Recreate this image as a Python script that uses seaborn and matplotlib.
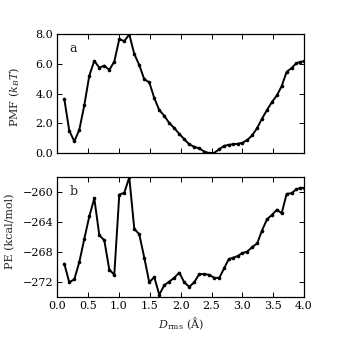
import matplotlib
matplotlib.use("Agg")
import matplotlib.pyplot as plt
import seaborn as sns
import pandas as pd

# Data
d_rms = [0.113, 0.194, 0.276, 0.357, 0.438, 0.519, 0.600, 0.681, 0.762, 0.843,
         0.924, 1.005, 1.086, 1.167, 1.248, 1.329, 1.410, 1.491, 1.572, 1.653,
         1.734, 1.815, 1.896, 1.977, 2.058, 2.139, 2.220, 2.301, 2.382, 2.464,
         2.545, 2.626, 2.707, 2.780, 2.853, 2.925, 2.998, 3.079, 3.160, 3.241,
         3.318, 3.399, 3.480, 3.561, 3.637, 3.718, 3.799, 3.874, 3.942, 3.995]

pmf = [3.66, 1.52, 0.80, 1.58, 3.22, 5.21, 6.20, 5.74, 5.88, 5.59,
       6.15, 7.66, 7.52, 7.97, 6.66, 5.92, 4.96, 4.76, 3.71, 2.90,
       2.52, 2.03, 1.70, 1.30, 0.95, 0.60, 0.44, 0.33, 0.12, 0.01,
       0.03, 0.28, 0.50, 0.57, 0.61, 0.64, 0.70, 0.89, 1.21, 1.70,
       2.32, 2.90, 3.44, 3.89, 4.50, 5.46, 5.72, 6.04, 6.13, 6.17]

pe = [-269.5, -272.0, -271.6, -269.3, -266.2, -263.2, -260.8, -265.7, -266.4, -270.3,
      -271.0, -260.3, -260.05, -258.0, -264.85, -265.6, -268.7, -272.0, -271.3, -273.65,
      -272.4, -271.9, -271.4, -270.7, -272.0, -272.6, -272.0, -270.9, -270.9, -271.0,
      -271.4, -271.4, -270.1, -268.9, -268.7, -268.5, -268.1, -267.9, -267.3, -266.8,
      -265.1, -263.6, -263.0, -262.3, -262.8, -260.2, -260.1, -259.6, -259.4, -259.4]

pmf_ticks = [0.0, 2.0, 4.0, 6.0, 8.0]
pe_ticks = [-272, -268, -264, -260]
x_ticks = [0.0, 0.5, 1.0, 1.5, 2.0, 2.5, 3.0, 3.5, 4.0]

df = pd.DataFrame({"d": d_rms, "pmf": pmf, "pe": pe})

sns.set_theme(style="ticks")
plt.rcParams["font.family"] = ["DejaVu Serif"]
plt.rcParams["mathtext.fontset"] = "dejavuserif"
plt.rcParams["axes.unicode_minus"] = True

fig = plt.figure(figsize=(3.38, 3.38), dpi=100)
ax1 = fig.add_axes([0.1695, 0.5464, 0.730, 0.353])
ax2 = fig.add_axes([0.1695, 0.1204, 0.730, 0.357])

kw = dict(color="black", linewidth=1.4, marker="o", markersize=2.6,
          markeredgewidth=0, markerfacecolor="black")
sns.lineplot(data=df, x="d", y="pmf", ax=ax1, **kw)
sns.lineplot(data=df, x="d", y="pe", ax=ax2, **kw)

fs = 8
for ax in (ax1, ax2):
    ax.set_xlim(0.0, 4.0)
    ax.set_xticks(x_ticks)
    ax.tick_params(direction="in", top=True, right=True, length=3.5,
                   width=0.7, labelsize=fs, pad=3, colors="black")
    for s in ax.spines.values():
        s.set_linewidth(0.9)
        s.set_color("black")

ax1.set_ylim(0.0, 8.0)
ax1.set_yticks(pmf_ticks)
ax1.set_yticklabels([f"{v:.1f}" for v in pmf_ticks])
ax1.set_xticklabels([])
ax1.set_xlabel("")
ax1.set_ylabel(r"PMF ($k_B T$)", fontsize=fs)
ax1.yaxis.set_label_coords(-0.145, 0.47)
ax1.text(0.066, 0.878, "a", transform=ax1.transAxes, fontsize=9,
         ha="center", va="center")

ax2.set_ylim(-274.0, -257.9)
ax2.set_yticks(pe_ticks)
ax2.set_yticklabels([f"\u2212{abs(v)}" for v in pe_ticks])
ax2.set_xticklabels([f"{v:.1f}" for v in x_ticks])
ax2.set_ylabel("PE (kcal/mol)", fontsize=fs)
ax2.yaxis.set_label_coords(-0.17, 0.55)
ax2.set_xlabel(r"$D_{\rm rms}$ (Å)", fontsize=fs, labelpad=3)
ax2.text(0.066, 0.873, "b", transform=ax2.transAxes, fontsize=9,
         ha="center", va="center")

fig.savefig("out.png", dpi=100, facecolor="white")
